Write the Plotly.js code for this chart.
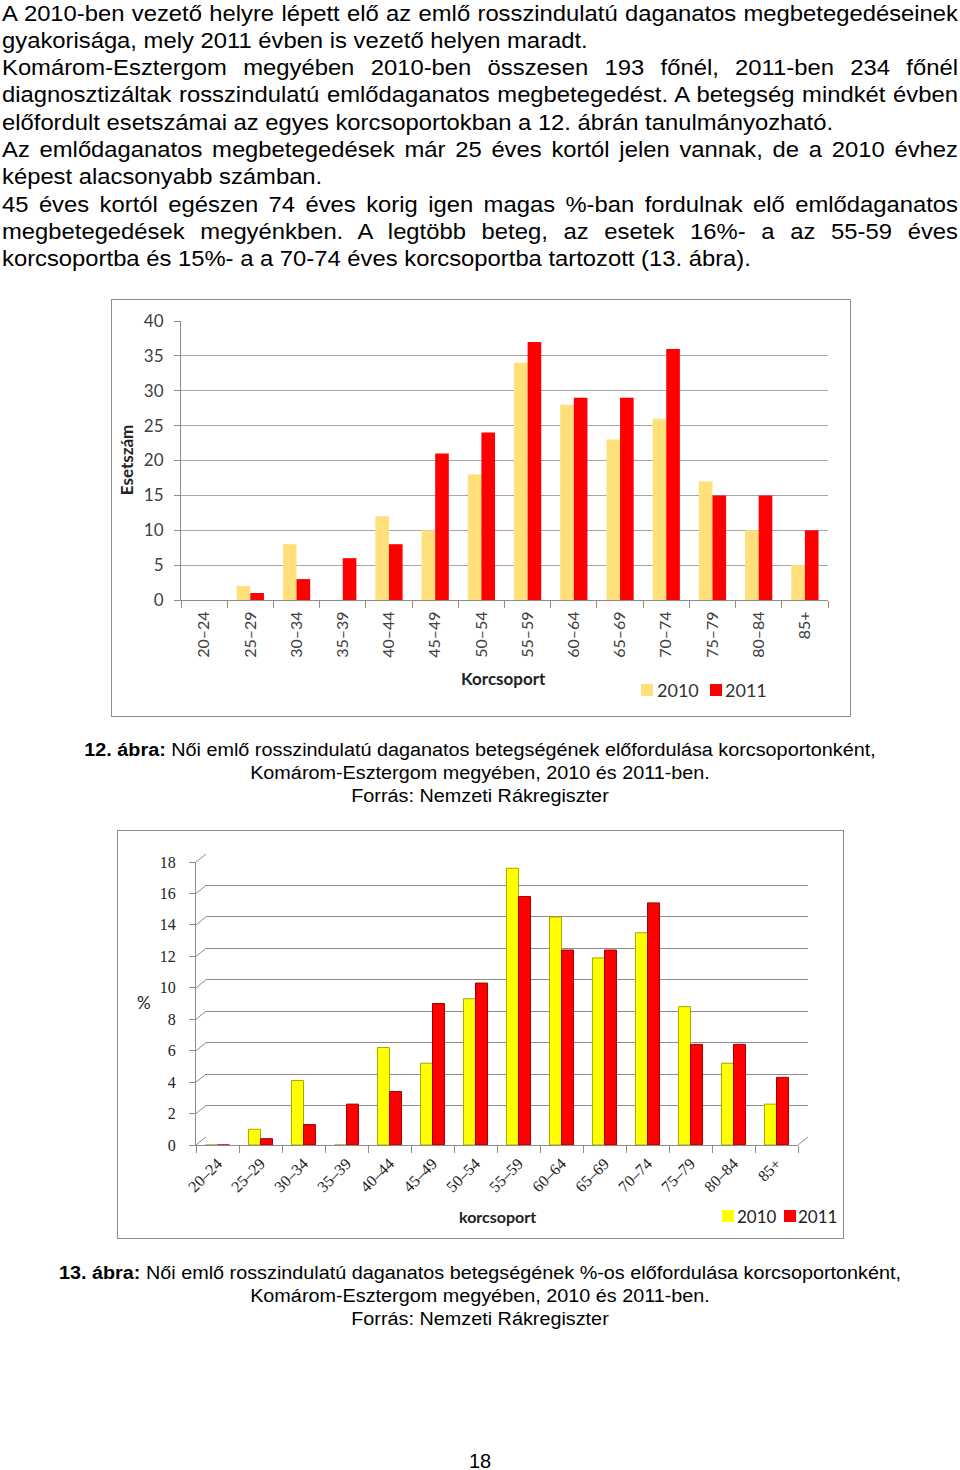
<!DOCTYPE html>
<html>
<head>
<meta charset="utf-8">
<script src="https://cdn.plot.ly/plotly-3.0.1.min.js"></script>
<style>
  html, body { margin: 0; padding: 0; background: #fff; }
  body { width: 960px; height: 1470px; position: relative; overflow: hidden; font-family: "Liberation Sans", Arial, sans-serif; color: #000; }
  .txt { position: absolute; left: 2px; width: 883.5px; top: -0.5px; font-size: 22px; line-height: 27.3px; transform: scaleX(1.082); transform-origin: 0 0; }
  .txt div { white-space: nowrap; }
  .txt .j { text-align: justify; text-align-last: justify; }
  .cap { position: absolute; left: 0; width: 960px; text-align: center; font-size: 18px; line-height: 23px; transform: scaleX(1.1); transform-origin: 480px 0; }
  .cap div { white-space: nowrap; }
  .frame { position: absolute; box-sizing: border-box; border: 1.5px solid #8c8c8c; }
  .plot { position: absolute; }
  .pnum { position: absolute; left: 0; width: 960px; text-align: center; top: 1450px; font-size: 20px; }
</style>
</head>
<body>
<div class="txt">
  <div class="j">A 2010-ben vezető helyre lépett elő az emlő rosszindulatú daganatos megbetegedéseinek</div>
  <div>gyakorisága, mely 2011 évben is vezető helyen maradt.</div>
  <div class="j">Komárom-Esztergom megyében 2010-ben összesen 193 főnél, 2011-ben 234 főnél</div>
  <div class="j">diagnosztizáltak rosszindulatú emlődaganatos megbetegedést. A betegség mindkét évben</div>
  <div>előfordult esetszámai az egyes korcsoportokban a 12. ábrán tanulmányozható.</div>
  <div class="j">Az emlődaganatos megbetegedések már 25 éves kortól jelen vannak, de a 2010 évhez</div>
  <div>képest alacsonyabb számban.</div>
  <div class="j">45 éves kortól egészen 74 éves korig igen magas %-ban fordulnak elő emlődaganatos</div>
  <div class="j">megbetegedések megyénkben. A legtöbb beteg, az esetek 16%- a az 55-59 éves</div>
  <div>korcsoportba és 15%- a a 70-74 éves korcsoportba tartozott (13. ábra).</div>
</div>

<div class="frame" style="left:111px; top:299px; width:740px; height:418px;"></div>
<div id="chart1" class="plot" style="left:111px; top:299px; width:739px; height:417px;"></div>

<div class="cap" style="top:739px;">
  <div><b>12. ábra:</b> Női emlő rosszindulatú daganatos betegségének előfordulása korcsoportonként,</div>
  <div>Komárom-Esztergom megyében, 2010 és 2011-ben.</div>
  <div>Forrás: Nemzeti Rákregiszter</div>
</div>

<div class="frame" style="left:117px; top:830px; width:727px; height:409px;"></div>
<div id="chart2" class="plot" style="left:117px; top:830px; width:726px; height:408px;"></div>

<div class="cap" style="top:1262px;">
  <div><b>13. ábra:</b> Női emlő rosszindulatú daganatos betegségének %-os előfordulása korcsoportonként,</div>
  <div>Komárom-Esztergom megyében, 2010 és 2011-ben.</div>
  <div>Forrás: Nemzeti Rákregiszter</div>
</div>

<div class="pnum">18</div>

<script>
// ---- data ----
const categories = ['20–24','25–29','30–34','35–39','40–44','45–49','50–54','55–59','60–64','65–69','70–74','75–79','80–84','85+'];
const seriesNames = ['2010', '2011'];
const cases2010 = [0, 2, 8, 0, 12, 10, 18, 34, 28, 23, 26, 17, 10, 5];
const cases2011 = [0, 1, 3, 6, 8, 21, 24, 37, 29, 29, 36, 15, 15, 10];
const pct2010 = [0, 1.0, 4.1, 0, 6.2, 5.2, 9.3, 17.6, 14.5, 11.9, 13.5, 8.8, 5.2, 2.6];
const pct2011 = [0, 0.4, 1.3, 2.6, 3.4, 9.0, 10.3, 15.8, 12.4, 12.4, 15.4, 6.4, 6.4, 4.3];
const caseTicks = [0, 5, 10, 15, 20, 25, 30, 35, 40];
const pctTicks = [0, 2, 4, 6, 8, 10, 12, 14, 16, 18];

const cfg = { staticPlot: true, displayModeBar: false };

// legend built from squares + labels, positioned in pixel terms of the plot div
function legendParts(m, w, h, items) {
  const W = w - m.l - m.r, H = h - m.t - m.b;
  const px = v => (v - m.l) / W;
  const py = v => (h - m.b - v) / H;
  const shapes = [], ann = [];
  items.forEach(it => {
    shapes.push({ type: 'rect', xref: 'paper', yref: 'paper',
      x0: px(it.sx), x1: px(it.sx + it.size), y0: py(it.cy + it.size / 2), y1: py(it.cy - it.size / 2),
      fillcolor: it.color, line: { width: 0 } });
    ann.push({ text: it.name, xref: 'paper', yref: 'paper', x: px(it.tx), y: py(it.cy), showarrow: false,
      xanchor: 'left', yanchor: 'middle', font: it.font });
  });
  return { shapes, ann };
}

// ---- chart 1 ----
(function () {
  const sans = 'Lato, "Open Sans", sans-serif';
  const m = { l: 70, r: 22, t: 22, b: 116 };
  const lf = { family: sans, size: 18, color: '#333' };
  const leg = legendParts(m, 739, 417, [
    { name: seriesNames[0], color: '#FFE07A', sx: 530, tx: 544, cy: 391, size: 12, font: lf },
    { name: seriesNames[1], color: '#FF0000', sx: 599, tx: 612, cy: 391, size: 12, font: lf }
  ]);
  const traces = [
    { type: 'bar', name: seriesNames[0], x: categories, y: cases2010, marker: { color: '#FFE07A' } },
    { type: 'bar', name: seriesNames[1], x: categories, y: cases2011, marker: { color: '#FF0000' } }
  ];
  const layout = {
    width: 739, height: 417,
    margin: m,
    paper_bgcolor: 'rgba(0,0,0,0)', plot_bgcolor: 'rgba(0,0,0,0)',
    barmode: 'group', bargap: 0.41, bargroupgap: 0,
    font: { family: sans, size: 16, color: '#404040' },
    xaxis: {
      type: 'category', tickangle: -90, tickson: 'boundaries', ticks: 'outside', ticklen: 7,
      tickcolor: '#8c8c8c', showline: true, linecolor: '#8c8c8c', linewidth: 1,
      showgrid: false, tickfont: { family: sans, size: 16, color: '#404040' }, ticklabelstandoff: 4
    },
    yaxis: {
      range: [0, 40], tickvals: caseTicks, ticks: 'outside', ticklen: 6, tickcolor: '#8c8c8c',
      showline: true, linecolor: '#8c8c8c', showgrid: true, gridcolor: '#a6a6a6', gridwidth: 1,
      zeroline: false, tickfont: { family: sans, size: 17, color: '#404040' }, ticklabelstandoff: 7
    },
    showlegend: false,
    shapes: leg.shapes,
    annotations: [
      { text: '<b>Korcsoport</b>', xref: 'paper', yref: 'paper', x: 0.498, y: -0.28, showarrow: false,
        xanchor: 'center', yanchor: 'middle', font: { family: sans, size: 17, color: '#222' } },
      { text: '<b>Esetszám</b>', xref: 'paper', yref: 'paper', x: -0.083, y: 0.502, showarrow: false,
        textangle: -90, xanchor: 'center', yanchor: 'middle', font: { family: sans, size: 17, color: '#222' } }
    ].concat(leg.ann)
  };
  Plotly.newPlot('chart1', traces, layout, cfg);
})();

// ---- chart 2 ----
(function () {
  const sans = 'Lato, "Open Sans", sans-serif';
  const serif = '"Liberation Serif", serif';
  const m = { l: 79, r: 35, t: 24, b: 93 };
  const W = 612, H = 291, dx = 10, dy = 8;
  const frontTop = (H - dy) / H, frontRight = (W - dx) / W;
  const ymax = 18;
  const fy = v => (v / ymax) * frontTop;
  const by = v => dy / H + (v / ymax) * frontTop;
  const shapes = pctTicks.map(v => ({
    type: 'line', xref: 'paper', yref: 'paper', x0: 0, y0: fy(v), x1: dx / W, y1: by(v),
    line: { color: '#8c8c8c', width: 1 }, layer: 'below'
  }));
  shapes.push({ type: 'line', xref: 'paper', yref: 'paper', x0: frontRight, y0: 0, x1: 1, y1: dy / H,
    line: { color: '#8c8c8c', width: 1 }, layer: 'below' });
  const lf = { family: sans, size: 17, color: '#222' };
  const leg = legendParts(m, 726, 408, [
    { name: seriesNames[0], color: '#FFFF00', sx: 605, tx: 618, cy: 386, size: 12, font: lf },
    { name: seriesNames[1], color: '#FF0000', sx: 667, tx: 679, cy: 386, size: 12, font: lf }
  ]);

  const traces = [
    { type: 'scatter', x: [], y: [], xaxis: 'x', yaxis: 'y', showlegend: false, hoverinfo: 'skip' },
    { type: 'bar', name: seriesNames[0], x: categories, y: pct2010, xaxis: 'x2', yaxis: 'y2',
      marker: { color: '#FFFF00', line: { color: '#A8A800', width: 1 } } },
    { type: 'bar', name: seriesNames[1], x: categories, y: pct2011, xaxis: 'x2', yaxis: 'y2',
      marker: { color: '#FF0000', line: { color: '#A00000', width: 1 } } }
  ];
  const layout = {
    width: 726, height: 408,
    margin: m,
    paper_bgcolor: 'rgba(0,0,0,0)', plot_bgcolor: 'rgba(0,0,0,0)',
    barmode: 'group', bargap: 0.44, bargroupgap: 0,
    font: { family: serif, size: 16, color: '#222' },
    xaxis: { domain: [dx / W, 1], range: [0, 1], showticklabels: false, showgrid: false, zeroline: false, ticks: '' },
    yaxis: { domain: [dy / H, 1], range: [0, ymax], tickvals: pctTicks, showticklabels: false, ticks: '',
      showgrid: true, gridcolor: '#8c8c8c', gridwidth: 1, zeroline: false },
    xaxis2: {
      domain: [0, frontRight], anchor: 'y2', type: 'category', tickangle: -45, tickson: 'boundaries',
      ticks: 'outside', ticklen: 7, tickcolor: '#8c8c8c', showline: true, linecolor: '#8c8c8c',
      showgrid: false, tickfont: { family: serif, size: 16, color: '#222' }, ticklabelstandoff: 2
    },
    yaxis2: {
      domain: [0, frontTop], anchor: 'x2', range: [0, ymax], tickvals: pctTicks, ticks: 'outside', ticklen: 6,
      tickcolor: '#8c8c8c', showline: true, linecolor: '#8c8c8c', showgrid: false, zeroline: false,
      tickfont: { family: serif, size: 16, color: '#222' }, ticklabelstandoff: 10
    },
    shapes: shapes.concat(leg.shapes),
    showlegend: false,
    annotations: [
      { text: '<b>korcsoport</b>', xref: 'paper', yref: 'paper', x: 0.492, y: -0.244, showarrow: false,
        xanchor: 'center', yanchor: 'middle', font: { family: sans, size: 16, color: '#222' } },
      { text: '%', xref: 'paper', yref: 'paper', x: -0.085, y: 0.488, showarrow: false,
        xanchor: 'center', yanchor: 'middle', font: { family: sans, size: 17, color: '#222' } }
    ].concat(leg.ann)
  };
  Plotly.newPlot('chart2', traces, layout, cfg);
})();
</script>
</body>
</html>
